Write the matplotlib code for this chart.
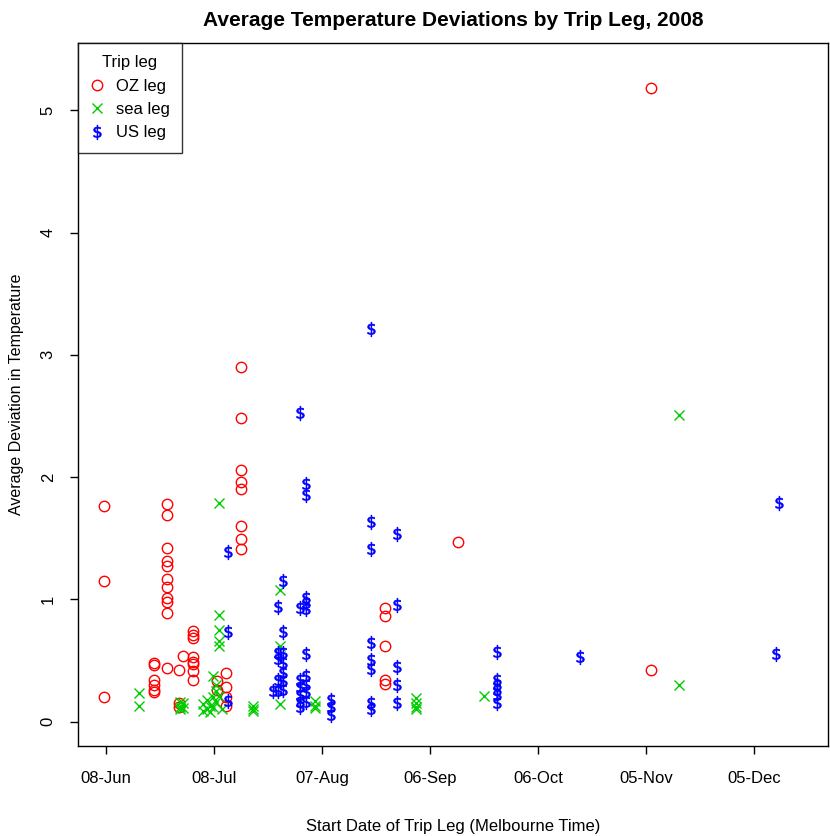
#!/usr/bin/env python3
"""
Average temperature deviations by trip leg, 2008 (R base-graphics look)
"""

import numpy as np
import pandas as pd
import matplotlib
matplotlib.use('Agg')
import matplotlib.pyplot as plt
import matplotlib.dates as mdates

plt.rcParams['font.family'] = ['Liberation Sans', 'DejaVu Sans']

# start date of each leg (Melbourne time) and the deviations recorded for it
oz_dates = ['2008-06-07 11:00', '2008-06-21 08:00', '2008-06-24 23:00', '2008-06-28 07:00',
            '2008-06-29 09:00', '2008-07-02 04:00', '2008-07-08 20:00', '2008-07-11 08:00',
            '2008-07-15 12:00', '2008-08-24 12:00', '2008-09-13 19:00', '2008-11-06 10:00']
oz_devs = [[1.76, 1.15, 0.20],
           [0.48, 0.46, 0.34, 0.30, 0.26, 0.24],
           [1.78, 1.69, 1.42, 1.31, 1.27, 1.17, 1.10, 1.01, 0.98, 0.89, 0.44],
           [0.42, 0.15, 0.12],
           [0.54],
           [0.74, 0.71, 0.68, 0.53, 0.49, 0.47, 0.41, 0.34],
           [0.33, 0.26],
           [0.40, 0.28, 0.20, 0.13],
           [2.90, 2.48, 2.06, 1.96, 1.90, 1.60, 1.49, 1.41],
           [0.93, 0.86, 0.62, 0.34, 0.31],
           [1.47],
           [5.18, 0.42]]

sea_dates = ['2008-06-17 04:00', '2008-06-28 13:00', '2008-06-29 09:00', '2008-07-04 23:00',
             '2008-07-06 01:00', '2008-07-06 21:00', '2008-07-07 17:00', '2008-07-08 13:00',
             '2008-07-09 09:00', '2008-07-10 05:00', '2008-07-18 20:00', '2008-07-26 08:00',
             '2008-08-05 01:00', '2008-09-02 02:00', '2008-09-21 00:00', '2008-11-14 05:00']
sea_devs = [[0.23, 0.13],
            [0.16, 0.12, 0.10],
            [0.15, 0.11],
            [0.14, 0.09],
            [0.18, 0.10],
            [0.13, 0.08],
            [0.37, 0.20, 0.12],
            [0.30, 0.25, 0.16],
            [1.79, 0.87, 0.75, 0.66, 0.62, 0.21],
            [0.10],
            [0.13, 0.10, 0.09],
            [1.08, 0.62, 0.14],
            [0.17, 0.13, 0.11],
            [0.19, 0.15, 0.12, 0.10],
            [0.21],
            [2.51, 0.30]]

us_dates = ['2008-07-11 22:00', '2008-07-24 09:00', '2008-07-25 19:00', '2008-07-27 04:00',
            '2008-07-31 21:00', '2008-08-02 14:00', '2008-08-09 12:00', '2008-08-20 15:00',
            '2008-08-27 20:00', '2008-09-24 15:00', '2008-10-17 17:00', '2008-12-11 02:00',
            '2008-12-11 22:00']
us_devs = [[1.39, 0.73, 0.17],
           [0.25],
           [0.94, 0.56, 0.51, 0.34, 0.25],
           [1.15, 0.73, 0.56, 0.48, 0.40, 0.33, 0.26],
           [2.52, 0.93, 0.34, 0.28, 0.22, 0.16, 0.12],
           [1.94, 1.85, 1.01, 0.97, 0.92, 0.55, 0.37, 0.30, 0.24, 0.16],
           [0.18, 0.12, 0.05],
           [3.21, 1.63, 1.41, 0.64, 0.50, 0.43, 0.15, 0.10],
           [1.53, 0.95, 0.45, 0.30, 0.15],
           [0.57, 0.34, 0.30, 0.26, 0.22, 0.15],
           [0.53],
           [0.55],
           [1.79]]

tick_dates = ['2008-06-08', '2008-07-08', '2008-08-07', '2008-09-06',
              '2008-10-06', '2008-11-05', '2008-12-05']
y_ticks = [0, 1, 2, 3, 4, 5]


def expand(dates, devs):
    """Repeat each start date once per deviation"""
    xs, ys = [], []
    for d, vals in zip(dates, devs):
        for v in vals:
            xs.append(pd.Timestamp(d))
            ys.append(v)
    return xs, ys


fig = plt.figure(figsize=(8.3, 8.36), dpi=100)
ax = fig.add_axes([78 / 830, 90 / 836, 750 / 830, 703 / 836])

x, y = expand(oz_dates, oz_devs)
ax.plot(x, y, linestyle='none', marker='o', markersize=7.5, markerfacecolor='none',
        markeredgecolor='#FF0000', markeredgewidth=1.0, label='OZ leg')
x, y = expand(sea_dates, sea_devs)
ax.plot(x, y, linestyle='none', marker='x', markersize=6.5, color='#00CD00',
        markeredgewidth=1.0, label='sea leg')
x, y = expand(us_dates, us_devs)
ax.plot(x, y, linestyle='none', marker=r'$\$$', markersize=10.5, color='#0000FF',
        markeredgewidth=0.5, label='US leg')

origin = pd.Timestamp('2008-06-08')
ax.set_xlim(origin - pd.Timedelta(days=7.8), origin + pd.Timedelta(days=200.6))
ax.set_ylim(-0.2, 5.55)

ax.set_xticks([pd.Timestamp(t) for t in tick_dates])
ax.xaxis.set_major_formatter(mdates.DateFormatter('%d-%b'))
ax.set_yticks(y_ticks)
ax.set_yticklabels([str(t) for t in y_ticks], rotation=90, va='center')

ax.tick_params(axis='both', direction='out', length=6, width=1, colors='black',
               labelsize=12)
ax.tick_params(axis='x', pad=12)
ax.tick_params(axis='y', pad=10)

for s in ax.spines.values():
    s.set_linewidth(1.0)
    s.set_color('black')

ax.set_xlabel('Start Date of Trip Leg (Melbourne Time)', fontsize=12, labelpad=24)
ax.set_ylabel('Average Deviation in Temperature', fontsize=11.5, labelpad=12)
ax.set_title('Average Temperature Deviations by Trip Leg, 2008',
             fontsize=15, fontweight='bold', pad=12)

leg = ax.legend(loc='upper left', title='Trip leg', fontsize=12, title_fontsize=12,
                frameon=True, fancybox=False, borderaxespad=0, edgecolor='black',
                handletextpad=0.7, handlelength=0.8, borderpad=0.75, labelspacing=0.5)
leg.get_frame().set_linewidth(1.0)

fig.savefig('out.png', dpi=100)
